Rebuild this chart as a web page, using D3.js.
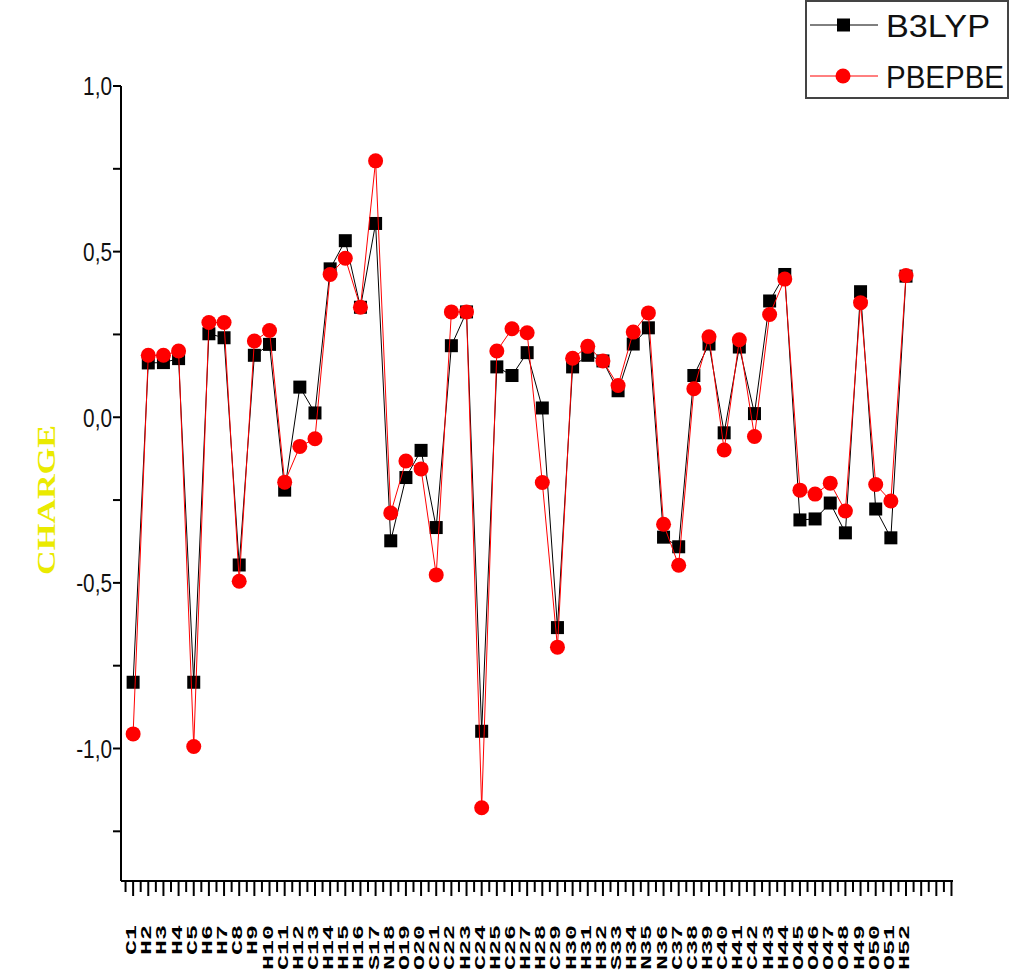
<html>
  <head>
    <meta charset="utf-8">
    <script src="https://d3js.org/d3.v7.min.js"></script>
  </head>
  <style type="text/css">
    body { margin: 0; background: #fff; }
    svg { font-family: "Liberation Sans", Arial, sans-serif; }
  </style>
  <body>
    <div id="chart"></div>
  </body>
  <script type="text/javascript">
    var atoms = ["C1","H2","H3","H4","C5","H6","H7","C8","H9","H10",
      "C11","H12","C13","H14","H15","H16","S17","N18","O19","O20",
      "C21","C22","H23","C24","H25","C26","H27","H28","C29","H30",
      "H31","H32","S33","H34","N35","N36","C37","C38","H39","C40",
      "H41","C42","H43","H44","O45","O46","O47","O48","H49","O50",
      "O51","H52"];

    var b3lyp = [-0.80, 0.164, 0.165, 0.177, -0.80, 0.252, 0.240, -0.446, 0.187, 0.220,
      -0.220, 0.091, 0.013, 0.448, 0.533, 0.332, 0.585, -0.373, -0.182, -0.100,
      -0.333, 0.216, 0.318, -0.948, 0.152, 0.126, 0.195, 0.028, -0.635, 0.152,
      0.187, 0.170, 0.080, 0.221, 0.270, -0.362, -0.391, 0.126, 0.221, -0.047,
      0.212, 0.011, 0.351, 0.431, -0.310, -0.307, -0.259, -0.349, 0.379, -0.277,
      -0.364, 0.426];

    var pbepbe = [-0.956, 0.187, 0.187, 0.200, -0.994, 0.286, 0.286, -0.495, 0.230, 0.262,
      -0.196, -0.088, -0.065, 0.431, 0.480, 0.332, 0.774, -0.289, -0.132, -0.156,
      -0.476, 0.318, 0.318, -1.179, 0.200, 0.267, 0.255, -0.197, -0.694, 0.178,
      0.214, 0.170, 0.096, 0.257, 0.315, -0.323, -0.447, 0.086, 0.243, -0.099,
      0.234, -0.058, 0.310, 0.417, -0.220, -0.232, -0.199, -0.283, 0.346, -0.203,
      -0.253, 0.428];

    var seriesNames = ["B3LYP", "PBEPBE"];
    var yLabelTicks = [-1.0, -0.5, 0.0, 0.5, 1.0];
    var yMinorTicks = [-1.25, -0.75, -0.25, 0.25, 0.75];
    var yTitle = "CHARGE";

    var width = 1013;
    var height = 975;

    var svg = d3.select("#chart").append("svg")
      .attr("width", width)
      .attr("height", height);

    /* Scales */
    var xScale = d3.scaleLinear().domain([0.2, 55.1]).range([121, 953]);
    var yScale = d3.scaleLinear().domain([-1.4, 1.0]).range([881, 86]);

    // comma decimals, plain hyphen for minus
    var fmt = function(v) { return v.toFixed(1).replace(".", ","); };

    /* Y axis */
    var yAxis = svg.append("g").attr("transform", "translate(121,0)");
    yAxis.append("line")
      .attr("y1", yScale(1.0)).attr("y2", yScale(-1.4))
      .attr("stroke", "#000").attr("stroke-width", 2);
    yAxis.selectAll(".ytick")
      .data(yLabelTicks.concat(yMinorTicks)).enter()
      .append("line")
      .attr("x1", -8).attr("x2", 0)
      .attr("y1", d => yScale(d)).attr("y2", d => yScale(d))
      .attr("stroke", "#000").attr("stroke-width", 2);
    yAxis.selectAll(".ylabel")
      .data(yLabelTicks).enter()
      .append("text")
      .attr("x", -9)
      .attr("y", d => yScale(d))
      .attr("dy", "0.36em")
      .attr("text-anchor", "end")
      .style("font-size", "26px")
      .attr("fill", "#111")
      .text(fmt)
      .each(function() {
        var l = this.getComputedTextLength();
        d3.select(this).attr("textLength", l * 0.8).attr("lengthAdjust", "spacingAndGlyphs");
      });

    /* X axis */
    var xAxis = svg.append("g").attr("transform", "translate(0,881)");
    xAxis.append("line")
      .attr("x1", 121).attr("x2", 953)
      .attr("stroke", "#000").attr("stroke-width", 2);
    var xTicks = d3.range(0.5, 55.5, 0.5);
    xAxis.selectAll(".xtick")
      .data(xTicks).enter()
      .append("line")
      .attr("x1", d => xScale(d)).attr("x2", d => xScale(d))
      .attr("y1", 0)
      .attr("y2", d => (d % 1 === 0) ? 15 : 11)
      .attr("stroke", "#000").attr("stroke-width", 2);

    // labels read bottom-to-top, tops aligned at y=925
    svg.append("g").selectAll("text")
      .data(atoms).enter()
      .append("text")
      .attr("transform", (d, i) => `translate(${xScale(i + 1) + 3}, ${925 + d.length * 15}) rotate(-90)`)
      .attr("text-anchor", "start")
      .style("font-family", "'Liberation Mono', 'Courier New', monospace")
      .style("font-weight", "bold")
      .style("font-size", "15px")
      .attr("fill", "#000")
      .attr("textLength", d => d.length * 15)
      .attr("lengthAdjust", "spacingAndGlyphs")
      .text(d => d);

    /* Y title */
    svg.append("text")
      .attr("transform", "translate(55,500) rotate(-90)")
      .attr("text-anchor", "middle")
      .style("font-family", "'Liberation Serif', 'Times New Roman', serif")
      .style("font-weight", "bold")
      .style("font-size", "25px")
      .attr("fill", "#eaea00")
      .attr("textLength", 150)
      .attr("lengthAdjust", "spacingAndGlyphs")
      .text(yTitle);

    /* Lines and markers */
    var line = d3.line()
      .x((d, i) => xScale(i + 1))
      .y(d => yScale(d));

    var plot = svg.append("g");
    plot.append("path")
      .datum(b3lyp)
      .attr("d", line)
      .attr("fill", "none")
      .attr("stroke", "#000")
      .attr("stroke-width", 1);
    plot.selectAll(".sq")
      .data(b3lyp).enter()
      .append("rect")
      .attr("x", (d, i) => xScale(i + 1) - 6.5)
      .attr("y", d => yScale(d) - 6.5)
      .attr("width", 13).attr("height", 13)
      .attr("fill", "#000");
    plot.append("path")
      .datum(pbepbe)
      .attr("d", line)
      .attr("fill", "none")
      .attr("stroke", "#f00")
      .attr("stroke-width", 1);
    plot.selectAll(".ci")
      .data(pbepbe).enter()
      .append("circle")
      .attr("cx", (d, i) => xScale(i + 1))
      .attr("cy", d => yScale(d))
      .attr("r", 7.5)
      .attr("fill", "#f00");

    /* Legend */
    var legend = svg.append("g");
    legend.append("rect")
      .attr("x", 806).attr("y", 1)
      .attr("width", 202).attr("height", 97)
      .attr("fill", "#fff")
      .attr("stroke", "#444").attr("stroke-width", 2);
    var ly = [25, 76];
    legend.selectAll(".lline")
      .data(seriesNames).enter()
      .append("line")
      .attr("x1", 810).attr("x2", 878)
      .attr("y1", (d, i) => ly[i]).attr("y2", (d, i) => ly[i])
      .attr("stroke", (d, i) => i === 0 ? "#000" : "#f00")
      .attr("stroke-width", 1);
    legend.append("rect")
      .attr("x", 837).attr("y", ly[0] - 6.5)
      .attr("width", 13).attr("height", 13)
      .attr("fill", "#000");
    legend.append("circle")
      .attr("cx", 843).attr("cy", ly[1])
      .attr("r", 7.5)
      .attr("fill", "#f00");
    legend.selectAll(".ltext")
      .data(seriesNames).enter()
      .append("text")
      .attr("x", 886)
      .attr("y", (d, i) => ly[i] + 12)
      .style("font-size", "32px")
      .attr("fill", "#111")
      .attr("textLength", (d, i) => i === 0 ? 104 : 118)
      .attr("lengthAdjust", "spacingAndGlyphs")
      .text(d => d);
  </script>
</html>
